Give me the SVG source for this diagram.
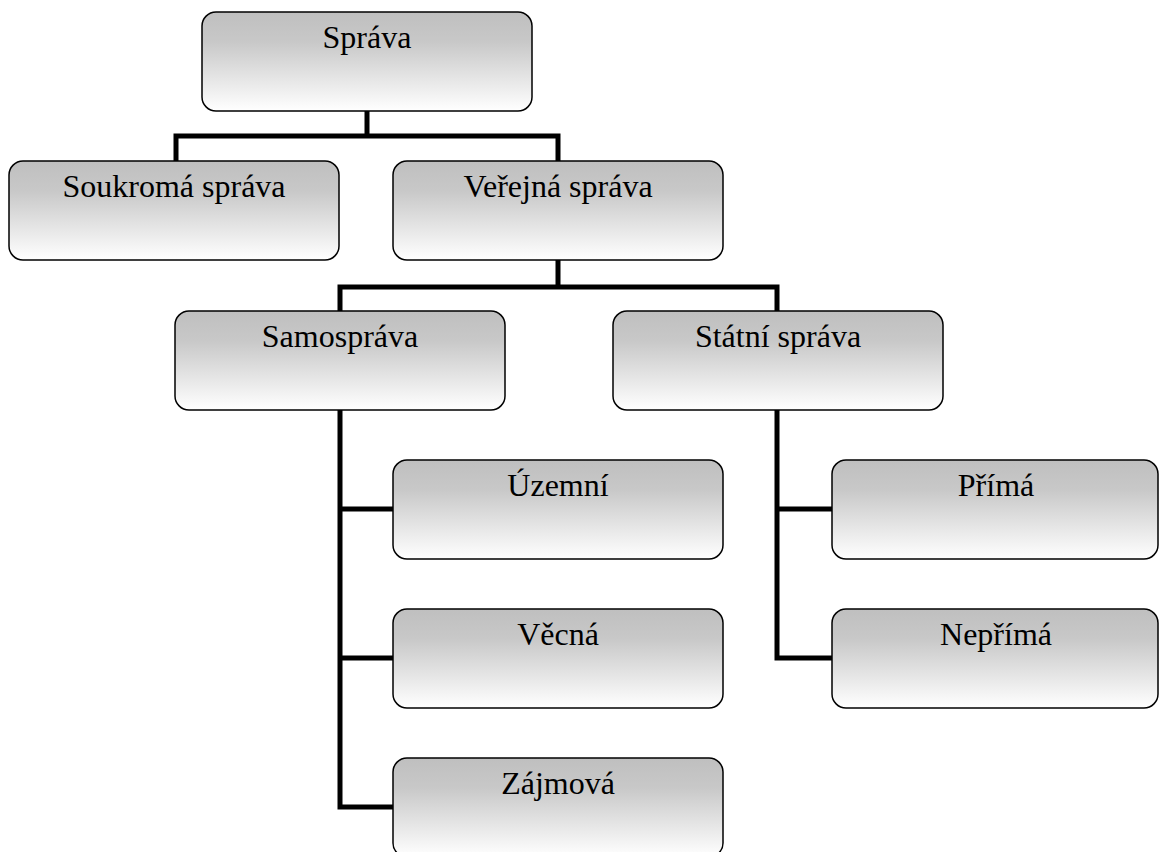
<svg xmlns="http://www.w3.org/2000/svg" width="1159" height="852" viewBox="0 0 1159 852">
<style>
.box{fill:url(#g);stroke:#000;stroke-width:1.5}
.t{font-family:"Liberation Serif","Times New Roman",serif;font-size:32px;fill:#000;text-anchor:middle}
.c{fill:none;stroke:#000;stroke-width:5;stroke-linecap:square;stroke-linejoin:miter}
</style>
<defs>
<linearGradient id="g" x1="0" y1="0" x2="0" y2="1">
<stop offset="0" stop-color="#bfbfbf"/>
<stop offset="0.3" stop-color="#c8c8c8"/>
<stop offset="1" stop-color="#ffffff"/>
</linearGradient>
</defs>
<rect width="1159" height="852" fill="#fff"/>
<g id="connectors">
<path class="c" d="M367,111 V136 M176,161 V136 H558 V161"/>
<path class="c" d="M558,260 V287 M340,311 V287 H777 V311"/>
<path class="c" d="M340,410 V807 H393 M340,509 H393 M340,658 H393"/>
<path class="c" d="M777,410 V658 H832 M777,509 H832"/>
</g>
<g id="sprava"><rect class="box" x="202" y="12" width="330" height="99" rx="14"/><text class="t" x="367" y="48">Správa</text></g>
<g id="soukroma"><rect class="box" x="9" y="161" width="330" height="99" rx="14"/><text class="t" x="174" y="197">Soukromá správa</text></g>
<g id="verejna"><rect class="box" x="393" y="161" width="330" height="99" rx="14"/><text class="t" x="558" y="197">Veřejná správa</text></g>
<g id="samosprava"><rect class="box" x="175" y="311" width="330" height="99" rx="14"/><text class="t" x="340" y="347">Samospráva</text></g>
<g id="statni"><rect class="box" x="613" y="311" width="330" height="99" rx="14"/><text class="t" x="778" y="347">Státní správa</text></g>
<g id="uzemni"><rect class="box" x="393" y="460" width="330" height="99" rx="14"/><text class="t" x="558" y="496">Územní</text></g>
<g id="vecna"><rect class="box" x="393" y="609" width="330" height="99" rx="14"/><text class="t" x="558" y="645">Věcná</text></g>
<g id="zajmova"><rect class="box" x="393" y="758" width="330" height="99" rx="14"/><text class="t" x="558" y="794">Zájmová</text></g>
<g id="prima"><rect class="box" x="832" y="460" width="326" height="99" rx="14"/><text class="t" x="996" y="496">Přímá</text></g>
<g id="neprima"><rect class="box" x="832" y="609" width="326" height="99" rx="14"/><text class="t" x="996" y="645">Nepřímá</text></g>
</svg>
